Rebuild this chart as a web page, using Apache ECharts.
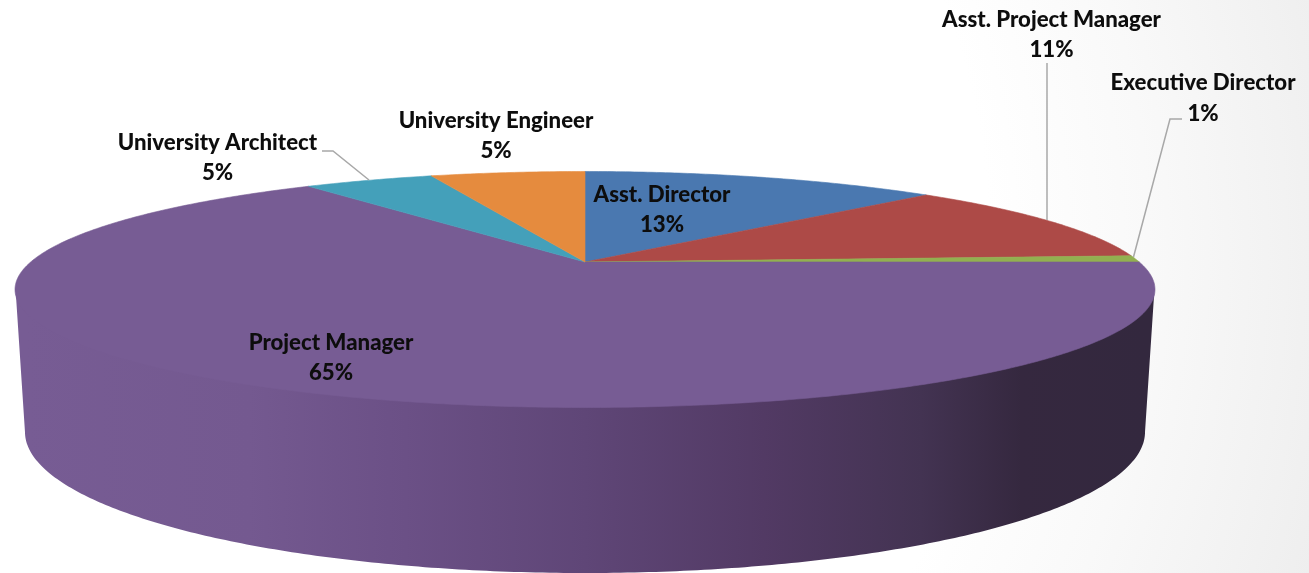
<!DOCTYPE html>
<html>
<head>
<meta charset="utf-8">
<style>html,body{margin:0;padding:0;background:#fff;overflow:hidden}#c{width:1309px;height:573px}</style>
<script src="https://cdn.jsdelivr.net/npm/echarts@6/dist/echarts.min.js"></script>
</head>
<body>
<div id="c"></div>
<script>
var categories = ['Asst. Director','Asst. Project Manager','Executive Director','Project Manager','University Architect','University Engineer'];
var values = [12.7, 11.4, 0.9, 64.9, 4.6, 5.49];
var percentLabels = ['13%','11%','1%','65%','5%','5%'];
var colors = ['#4a78b0','#ad4a47','#92b050','#775c94','#44a0ba','#e58b3e'];

// layout of the drawing: label centres and leader lines, by slice
var labelCenters = [[662,210],[1051.5,35],[1203,98.5],[331,358],[217.5,158],[496,136]];
var leaders = [null,[[1047,63],[1047,220]],[[1182,119],[1170,119],[1133.5,257]],null,[[322,151],[333,151],[369,180]],null];

// perspective model of the disc: top face, bottom face, and the wall's hidden upper edge
var CX = 585, K = 0.233;
var TOP = {y0:262, A:111.6, B:554.3};
var BOT = {y0:399.1, A:133.4, B:544.6};
var WALLTOP = {y0:262, A:109.2, B:553.8};
var total = values.reduce(function(s,v){return s+v;},0);

function proj(face, t){ // t: angle clockwise from 12 o'clock, radians
  var u = Math.sin(t), v = -Math.cos(t), d = 1 - K*v;
  return [CX + face.B*u/d, face.y0 + face.A*v/d];
}
function arc(face, a, b){
  var n = Math.max(2, Math.ceil(Math.abs(b-a)/0.01)), pts = [];
  for (var i=0;i<=n;i++) pts.push(proj(face, a+(b-a)*i/n));
  return pts;
}
var tRight = Math.PI - Math.acos(K), tLeft = Math.PI + Math.acos(K);
var wallFill = {type:'linear',x:25,y:0,x2:1145,y2:0,global:true,colorStops:[
  {offset:0,color:'#775c94'},{offset:0.2,color:'#745990'},{offset:0.34,color:'#6b5086'},
  {offset:0.5,color:'#5f4677'},{offset:0.66,color:'#523a64'},{offset:0.8,color:'#433352'},
  {offset:0.89,color:'#35283f'},{offset:1,color:'#33283e'}]};

function renderItem(params, api){
  var i = params.dataIndex, before = 0;
  for (var j=0;j<i;j++) before += values[j];
  var a0 = before/total*2*Math.PI, a1 = (before+api.value(0))/total*2*Math.PI;
  var children = [];
  var wa = Math.max(a0,tRight), wb = Math.min(a1,tLeft);
  if (wb > wa){
    children.push({type:'polygon',z2:1,shape:{points:arc(WALLTOP,wa,wb).concat(arc(BOT,wb,wa))},
      style:{fill:wallFill}});
  }
  children.push({type:'polygon',z2:2,shape:{points:[[CX,TOP.y0]].concat(arc(TOP,a0,a1))},
    style:{fill:colors[i],stroke:colors[i],lineWidth:0.6}});
  if (leaders[i]) children.push({type:'polyline',z2:3,shape:{points:leaders[i]},
    style:{fill:null,stroke:'#a8a8a8',lineWidth:1.5}});
  children.push({type:'text',z2:4,x:labelCenters[i][0],y:labelCenters[i][1],style:{
    text:categories[i]+'\n'+percentLabels[i],align:'center',verticalAlign:'middle',lineHeight:30.5,
    font:'900 22.2px Lato, sans-serif',fill:'#0d0d0d'}});
  return {type:'group',children:children};
}

var chart = echarts.init(document.getElementById('c'),null,{renderer:'canvas'});
chart.setOption({
  animation:false,
  graphic:[{type:'rect',z:-10,silent:true,shape:{x:0,y:0,width:1309,height:573},
    style:{fill:{type:'radial',x:300,y:250,r:1060,global:true,colorStops:[
      {offset:0,color:'#ffffff'},{offset:0.65,color:'#ffffff'},{offset:0.8,color:'#f9f9f9'},{offset:0.93,color:'#f2f2f2'},{offset:1,color:'#eeeeee'}]}}}],
  series:[{type:'custom',coordinateSystem:'none',renderItem:renderItem,clip:false,silent:true,z:2,
    data:values.map(function(v,i){return {name:categories[i],value:[v]};})}]
});
</script>
</body>
</html>
